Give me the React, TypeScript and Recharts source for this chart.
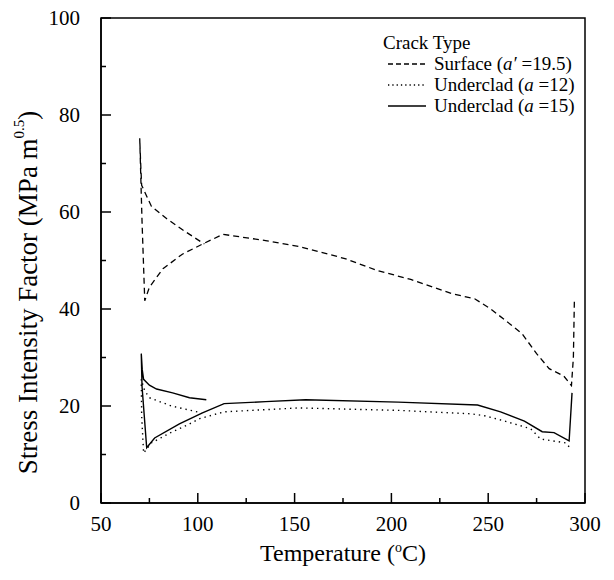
import React from "react";
import { LineChart, Line, XAxis, YAxis, ReferenceArea } from "recharts";

// Surface crack (a' = 19.5) — path order along the transient
const surfaceT = [294.5, 294, 293, 289, 281.5, 275, 267.5, 263.5, 251, 243, 231, 210, 193, 176, 152, 135, 113, 103, 92, 82, 75, 72.6, 71.2, 70, 70.5, 71, 76, 84, 93, 103.4];
const surfaceK = [41.5, 30, 24.2, 26.2, 27.7, 30.8, 34.9, 36.2, 40.1, 42.1, 43.2, 46.1, 47.9, 50.4, 52.9, 54.1, 55.4, 53.5, 51.3, 48.3, 44.5, 41.7, 58, 75.2, 70, 65.5, 61.2, 58.6, 56.1, 53.4];

// Underclad crack (a = 12)
const under12T = [291.8, 290, 277, 272, 258.4, 248, 241, 203.5, 152, 113.6, 101, 95.7, 86, 76, 72, 71, 70.8, 72.5, 75, 86.4, 101.8];
const under12K = [11.6, 12.4, 13.2, 15.3, 16.9, 18, 18.4, 19.1, 19.6, 18.8, 17.4, 16.3, 14.5, 12.4, 10.3, 18, 25.5, 23.2, 21.7, 20, 18.6];

// Underclad crack (a = 15)
const under15T = [293.3, 291.8, 284, 277.9, 268.7, 256.4, 244.5, 203.5, 155.7, 135, 113.6, 102.4, 90.5, 77.7, 73.6, 71.2, 70.8, 71.3, 72, 75, 78.7, 87, 95.7, 104.4];
const under15K = [22.7, 12.8, 14.5, 14.7, 16.9, 18.8, 20.2, 20.8, 21.3, 20.9, 20.5, 18.6, 16.3, 13.4, 11.4, 24, 30.8, 27.5, 25.5, 24.3, 23.5, 22.7, 21.7, 21.3];

const xTicks = [50, 75, 100, 125, 150, 175, 200, 225, 250, 275, 300];
const yTicks = [0, 10, 20, 30, 40, 50, 60, 70, 80, 90, 100];

const legendTitle = "Crack Type";
const seriesNames = ["Surface", "Underclad", "Underclad"];

const toData = (t: number[], k: number[]) => t.map((x, i) => ({ x, y: k[i] }));
const surfaceData = toData(surfaceT, surfaceK);
const under12Data = toData(under12T, under12K);
const under15Data = toData(under15T, under15K);

const FONT = "'Liberation Serif', 'Times New Roman', serif";

const XTick = (props: any) => {
  const { x, y, payload } = props;
  const major = payload.value % 50 === 0;
  return (
    <g>
      <line x1={x} x2={x} y1={y} y2={y - (major ? 10 : 5)} stroke="#000" strokeWidth={1.5} />
      {major && (
        <text x={x} y={y + 28} textAnchor="middle" fontSize={21} fontFamily={FONT} fill="#000">
          {payload.value}
        </text>
      )}
    </g>
  );
};

const YTick = (props: any) => {
  const { x, y, payload } = props;
  const major = payload.value % 20 === 0;
  return (
    <g>
      <line x1={x} x2={x + (major ? 10 : 5)} y1={y} y2={y} stroke="#000" strokeWidth={1.5} />
      {major && (
        <text x={x - 21} y={y + 7} textAnchor="end" fontSize={21} fontFamily={FONT} fill="#000">
          {payload.value}
        </text>
      )}
    </g>
  );
};

const XLabel = (props: any) => {
  const vb = props.viewBox || {};
  const cx = vb.x + vb.width / 2;
  return (
    <text x={cx} y={vb.y + 58} textAnchor="middle" fontSize={24} fontFamily={FONT} fill="#000">
      Temperature (<tspan dy={-9} fontSize={14}>o</tspan>
      <tspan dy={9}>C)</tspan>
    </text>
  );
};

const YLabel = (props: any) => {
  const vb = props.viewBox || {};
  const cx = vb.x + 31;
  const cy = vb.y + vb.height / 2 + 32;
  return (
    <text
      x={cx}
      y={cy}
      transform={`rotate(-90, ${cx}, ${cy})`}
      textAnchor="middle"
      dominantBaseline="middle"
      fontSize={27}
      fontFamily={FONT}
      fill="#000"
    >
      Stress Intensity Factor (MPa m<tspan dy={-10} fontSize={15}>0.5</tspan>
      <tspan dy={10}>)</tspan>
    </text>
  );
};

const LegendBox = () => {
  const rowStyle: React.CSSProperties = { display: "flex", alignItems: "center", height: 21 };
  const sample = (dash: string | undefined) => (
    <svg width={38} height={6} style={{ marginRight: 8 }}>
      <line x1={0} x2={38} y1={3} y2={3} stroke="#000" strokeWidth={1.3} strokeDasharray={dash} />
    </svg>
  );
  return (
    <div
      style={{
        position: "absolute",
        left: 383,
        top: 32,
        width: 225,
        fontFamily: FONT,
        fontSize: 19,
        color: "#000",
        lineHeight: "21px",
        whiteSpace: "nowrap",
      }}
    >
      <div style={rowStyle}>{legendTitle}</div>
      <div style={{ ...rowStyle, marginLeft: 5 }}>
        {sample("5 3")}
        <span>
          {seriesNames[0]} (<i>a′</i> =19.5)
        </span>
      </div>
      <div style={{ ...rowStyle, marginLeft: 5 }}>
        {sample("1.3 3")}
        <span>
          {seriesNames[1]} (<i>a</i> =12)
        </span>
      </div>
      <div style={{ ...rowStyle, marginLeft: 5 }}>
        {sample(undefined)}
        <span>
          {seriesNames[2]} (<i>a</i> =15)
        </span>
      </div>
    </div>
  );
};

export default function App() {
  return (
    <div style={{ width: 614, height: 580, position: "relative", margin: -8 }}>
      <LineChart width={614} height={580} margin={{ top: 18, right: 29, bottom: 0, left: 0 }}>
        <XAxis
          dataKey="x"
          type="number"
          domain={[50, 300]}
          ticks={xTicks}
          interval={0}
          allowDataOverflow
          height={77}
          tickSize={0}
          tickMargin={0}
          tick={<XTick />}
          axisLine={{ stroke: "#000", strokeWidth: 1.5 }}
          tickLine={false}
          label={<XLabel />}
        />
        <YAxis
          dataKey="y"
          type="number"
          domain={[0, 100]}
          ticks={yTicks}
          interval={0}
          allowDataOverflow
          width={101}
          tickSize={0}
          tickMargin={0}
          tick={<YTick />}
          axisLine={{ stroke: "#000", strokeWidth: 1.5 }}
          tickLine={false}
          label={<YLabel />}
        />
        <ReferenceArea x1={50} x2={300} y1={0} y2={100} fill="none" stroke="#000" strokeWidth={1.5} />
        <Line
          data={surfaceData}
          dataKey="y"
          type="linear"
          stroke="#000"
          strokeWidth={1.3}
          strokeDasharray="6 4"
          dot={false}
          isAnimationActive={false}
          name="Surface"
        />
        <Line
          data={under12Data}
          dataKey="y"
          type="linear"
          stroke="#000"
          strokeWidth={1.4}
          strokeDasharray="1.4 4"
          dot={false}
          isAnimationActive={false}
          name="Underclad12"
        />
        <Line
          data={under15Data}
          dataKey="y"
          type="linear"
          stroke="#000"
          strokeWidth={1.4}
          dot={false}
          isAnimationActive={false}
          name="Underclad15"
        />
      </LineChart>
      <LegendBox />
    </div>
  );
}
